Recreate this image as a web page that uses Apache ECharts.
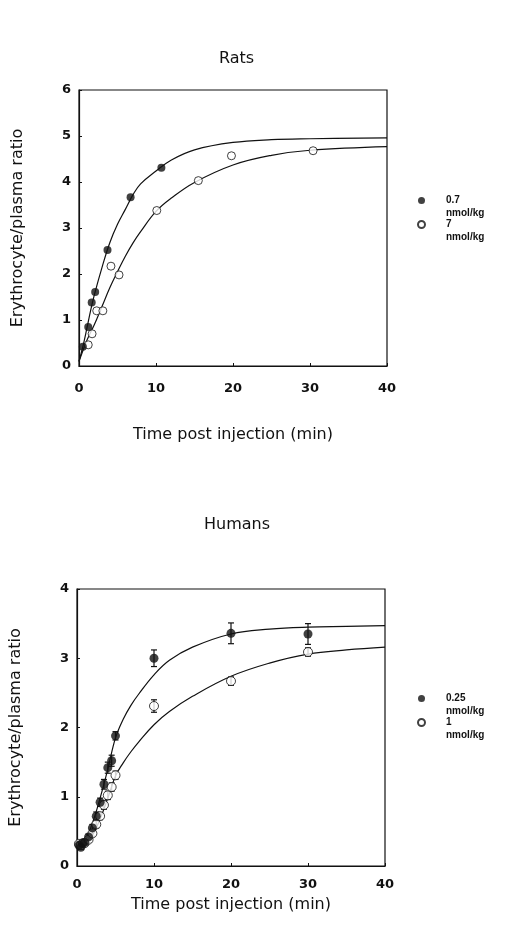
<!DOCTYPE html>
<html><head><meta charset="utf-8">
<script src="https://cdn.jsdelivr.net/npm/echarts@6/dist/echarts.min.js"></script>
<style>html,body{margin:0;padding:0;background:#fff}#c{width:513px;height:948px}</style>
</head><body><div id="c"></div>
<script>
// ---- Rats (top panel) ----
const ratTimeFilled = [0.5, 1.2, 1.65, 2.1, 3.7, 6.7, 10.7];
const ratFilled     = [0.42, 0.85, 1.38, 1.61, 2.52, 3.67, 4.31];
const ratTimeOpen   = [1.2, 1.7, 2.3, 3.1, 4.15, 5.2, 10.1, 15.5, 19.8, 30.4];
const ratOpen       = [0.46, 0.70, 1.20, 1.20, 2.17, 1.98, 3.38, 4.03, 4.57, 4.68];
const ratCurveT      = [0, 0.5, 1, 1.5, 2, 3, 4, 5, 6, 7, 8, 10, 12, 15, 20, 25, 30, 40];
const ratCurveFilled = [0.1, 0.42, 0.8, 1.2, 1.55, 2.15, 2.68, 3.08, 3.4, 3.72, 3.96, 4.24, 4.48, 4.7, 4.86, 4.92, 4.94, 4.96];
const ratCurveOpen   = [0.1, 0.33, 0.55, 0.73, 0.9, 1.3, 1.7, 2.05, 2.38, 2.67, 2.92, 3.36, 3.65, 3.99, 4.37, 4.58, 4.69, 4.77];

// ---- Humans (bottom panel) ----
const humT       = [0.25, 0.5, 0.75, 1, 1.5, 2, 2.5, 3, 3.5, 4, 4.5, 5, 10, 20, 30];
const humFilled  = [0.3, 0.27, 0.33, 0.34, 0.42, 0.55, 0.72, 0.92, 1.18, 1.42, 1.52, 1.88, 3.0, 3.36, 3.35];
const humFilledErr = [0.03, 0.03, 0.03, 0.04, 0.04, 0.05, 0.06, 0.06, 0.07, 0.08, 0.08, 0.06, 0.12, 0.15, 0.15];
const humOpen    = [0.32, 0.3, 0.33, 0.33, 0.38, 0.47, 0.6, 0.72, 0.88, 1.02, 1.14, 1.31, 2.31, 2.67, 3.09];
const humOpenErr = [0.03, 0.03, 0.03, 0.03, 0.04, 0.04, 0.05, 0.05, 0.06, 0.06, 0.06, 0.06, 0.09, 0.06, 0.06];
const humCurveT      = [0, 1, 2, 3, 4, 5, 6, 7, 8, 10, 12, 15, 20, 25, 30, 35, 40];
const humCurveFilled = [0.28, 0.36, 0.62, 0.98, 1.4, 1.85, 2.12, 2.32, 2.48, 2.76, 2.97, 3.16, 3.35, 3.42, 3.45, 3.46, 3.47];
const humCurveOpen   = [0.27, 0.31, 0.44, 0.68, 0.98, 1.3, 1.49, 1.65, 1.79, 2.04, 2.23, 2.45, 2.74, 2.93, 3.06, 3.12, 3.16];

const ratNames = ['0.7 nmol/kg', '7 nmol/kg'];
const humNames = ['0.25 nmol/kg', '1 nmol/kg'];
const titles = ['Rats', 'Humans'];
const yName = 'Erythrocyte/plasma ratio';
const xName = 'Time post injection (min)';

const INK = '#111';
const FONT = 'DejaVu Sans';
const zip = (a, b) => a.map((v, i) => [v, b[i]]);
const errData = (t, v, e) => t.map((x, i) => [x, v[i] - e[i], v[i] + e[i]]);

function errItem(params, api) {
  const x = api.value(0), lo = api.value(1), hi = api.value(2);
  const a = api.coord([x, lo]), b = api.coord([x, hi]);
  const w = 3, st = { stroke: INK, lineWidth: 1.2 };
  return { type: 'group', children: [
    { type: 'line', shape: { x1: a[0], y1: a[1], x2: b[0], y2: b[1] }, style: st },
    { type: 'line', shape: { x1: a[0] - w, y1: a[1], x2: a[0] + w, y2: a[1] }, style: st },
    { type: 'line', shape: { x1: b[0] - w, y1: b[1], x2: b[0] + w, y2: b[1] }, style: st }
  ]};
}

function xAx(gi, nameGap, labelMargin) {
  return {
    type: 'value', gridIndex: gi, min: 0, max: 40, interval: 10,
    name: xName, nameLocation: 'middle', nameGap: nameGap,
    nameTextStyle: { fontFamily: FONT, fontSize: 16, color: INK },
    axisLine: { show: true, lineStyle: { color: INK, width: 1.2 } },
    axisTick: { show: true, inside: true, length: 3, lineStyle: { color: INK } },
    axisLabel: { fontFamily: FONT, fontSize: 13, fontWeight: 'bold', color: INK, margin: labelMargin },
    splitLine: { show: false }
  };
}
function yAx(gi, max) {
  return {
    type: 'value', gridIndex: gi, min: 0, max: max, interval: 1,
    name: yName, nameLocation: 'middle', nameGap: 53, nameRotate: 90,
    nameTextStyle: { fontFamily: FONT, fontSize: 16, color: INK },
    axisLine: { show: true, lineStyle: { color: INK, width: 1.2 } },
    axisTick: { show: true, inside: true, length: 3, lineStyle: { color: INK } },
    axisLabel: { fontFamily: FONT, fontSize: 13, fontWeight: 'bold', color: INK, margin: 8 },
    splitLine: { show: false }
  };
}
function legendFor(names, top) {
  return {
    data: names, orient: 'vertical', left: 417, top: top, padding: 0,
    itemWidth: 7, itemHeight: 7, itemGap: -15,
    formatter: n => ' \n' + n.replace(' nmol', '\nnmol'),
    textStyle: { fontFamily: 'Liberation Sans', fontSize: 10, fontWeight: 'bold', color: INK,
                 lineHeight: 13, padding: [0, 0, 0, 16] }
  };
}
const filledStyle = { color: INK };
const openStyle = { color: '#fff', borderColor: INK, borderWidth: 1 };
const curveLine = (xi, name, t, v) => ({
  type: 'line', xAxisIndex: xi, yAxisIndex: xi, data: zip(t, v), smooth: 0.4,
  symbol: 'none', lineStyle: { color: INK, width: 1.2 }, z: 2, silent: true, name: name
});

const option = {
  backgroundColor: '#fff',
  animation: false,
  title: [
    { text: titles[0], left: 214, top: 46, textStyle: { fontFamily: FONT, fontSize: 16, fontWeight: 'normal', color: INK } },
    { text: titles[1], left: 199, top: 512, textStyle: { fontFamily: FONT, fontSize: 16, fontWeight: 'normal', color: INK } }
  ],
  grid: [
    { left: 79, top: 90, width: 308, height: 276, show: true, borderColor: INK, borderWidth: 1.2 },
    { left: 77, top: 589, width: 308, height: 277, show: true, borderColor: INK, borderWidth: 1.2 }
  ],
  xAxis: [xAx(0, 61, 16), xAx(1, 31, 12)],
  yAxis: [yAx(0, 6), yAx(1, 4)],
  legend: [legendFor(ratNames, 181), legendFor(humNames, 679)],
  series: [
    curveLine(0, 'ratCurveFilled', ratCurveT, ratCurveFilled),
    curveLine(0, 'ratCurveOpen', ratCurveT, ratCurveOpen),
    { type: 'scatter', name: ratNames[0], xAxisIndex: 0, yAxisIndex: 0, data: zip(ratTimeFilled, ratFilled),
      symbol: 'circle', symbolSize: 8, itemStyle: filledStyle, z: 5 },
    { type: 'scatter', name: ratNames[1], xAxisIndex: 0, yAxisIndex: 0, data: zip(ratTimeOpen, ratOpen),
      symbol: 'circle', symbolSize: 8, itemStyle: openStyle, z: 4 },
    curveLine(1, 'humCurveFilled', humCurveT, humCurveFilled),
    curveLine(1, 'humCurveOpen', humCurveT, humCurveOpen),
    { type: 'custom', name: 'errFilled', xAxisIndex: 1, yAxisIndex: 1, renderItem: errItem,
      data: errData(humT, humFilled, humFilledErr), encode: { x: 0, y: [1, 2] }, z: 3, silent: true },
    { type: 'custom', name: 'errOpen', xAxisIndex: 1, yAxisIndex: 1, renderItem: errItem,
      data: errData(humT, humOpen, humOpenErr), encode: { x: 0, y: [1, 2] }, z: 3, silent: true },
    { type: 'scatter', name: humNames[1], xAxisIndex: 1, yAxisIndex: 1, data: zip(humT, humOpen),
      symbol: 'circle', symbolSize: 9, itemStyle: openStyle, z: 4 },
    { type: 'scatter', name: humNames[0], xAxisIndex: 1, yAxisIndex: 1, data: zip(humT, humFilled),
      symbol: 'circle', symbolSize: 9, itemStyle: filledStyle, z: 5 }
  ]
};
const chart = echarts.init(document.getElementById('c'), null, { renderer: 'canvas' });
chart.setOption(option);
</script>
</body></html>
